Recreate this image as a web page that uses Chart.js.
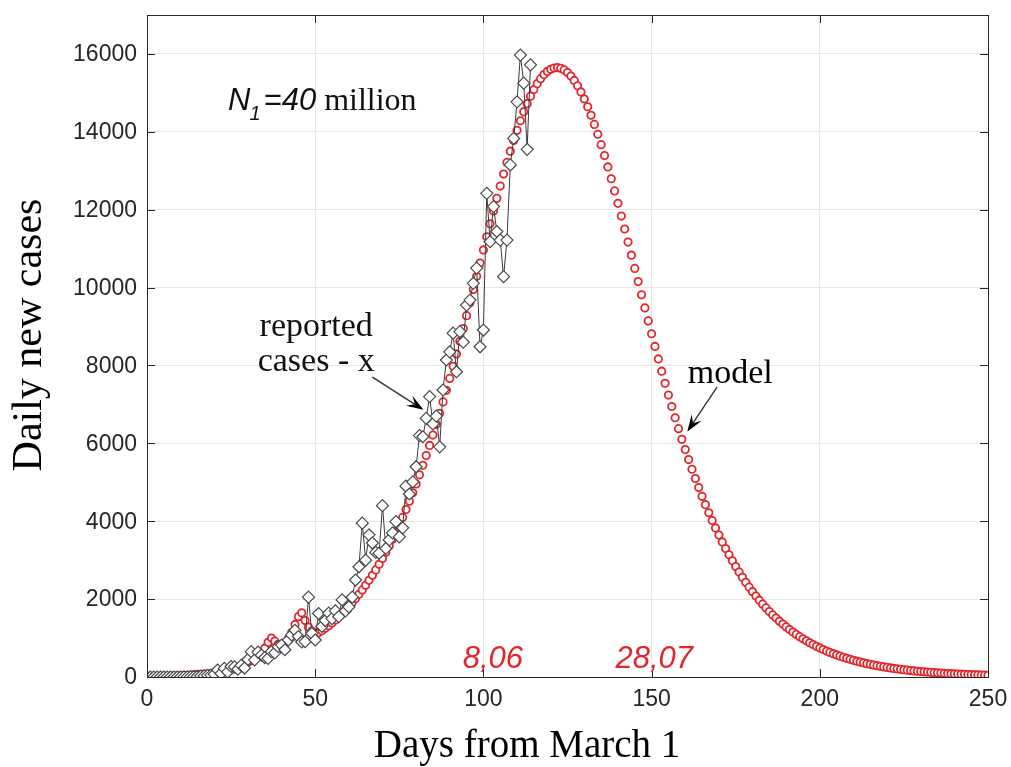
<!DOCTYPE html>
<html>
<head>
<meta charset="utf-8">
<script src="https://cdn.jsdelivr.net/npm/chart.js@4/dist/chart.umd.min.js"></script>
<style>
  html, body { margin: 0; padding: 0; background: #fff; }
</style>
</head>
<body>
<canvas id="casesChart" width="1011" height="767"></canvas>
<script>
// daily reported cases, one value per day starting at day 0 (March 1)
const reportedCases = [
  0, 0, 0, 0, 0, 0, 0, 0, 0, 0,
  0, 2, 5, 10, 15, 20, 25, 30, 40, 50,
  70, 180, 90, 220, 130, 270, 260, 200, 300, 230,
  450, 650, 440, 640, 560, 500, 480, 650, 620, 780,
  820, 700, 950, 1080, 1200, 1040, 900, 910, 2050, 1120,
  950, 1630, 1300, 1450, 1640, 1500, 1700, 1550, 1980, 1700,
  1800, 2050, 2490, 2830, 3950, 3000, 3650, 3440, 3200, 3180,
  4400, 3300, 3520, 3700, 3990, 3600, 3830, 4900, 4700, 5010,
  5400, 6200, 6170, 6640, 7200, 6500, 6700, 5910, 7370, 8140,
  8350, 8830, 7840, 8870, 8600, 9550, 9680, 10110, 10500, 8480,
  8910, 12420, 11180, 12080, 11440, 11220, 10280, 11220, 13150, 13830,
  14770, 15970, 15250, 13550, 15720
];

// model curve, one value per day from day 0 to day 250
const modelCases = [
  10, 12, 14, 16, 18, 20, 23, 26, 29, 32,
  36, 40, 45, 50, 55, 60, 66, 72, 80, 88,
  98, 110, 125, 142, 162, 185, 212, 240, 275, 320,
  380, 420, 470, 530, 620, 740, 890, 1000, 920, 840,
  820, 860, 980, 1140, 1350, 1550, 1650, 1450, 1280, 1180,
  1130, 1140, 1190, 1250, 1315, 1388, 1465, 1545, 1630, 1719,
  1813, 1911, 2014, 2123, 2237, 2356, 2482, 2613, 2750, 2894,
  3045, 3202, 3367, 3538, 3718, 3904, 4099, 4301, 4511, 4730,
  4957, 5192, 5435, 5686, 5946, 6213, 6489, 6773, 7064, 7362,
  7668, 7979, 8296, 8619, 8947, 9279, 9613, 9951, 10290, 10629,
  10967, 11304, 11638, 11967, 12291, 12608, 12916, 13215, 13503, 13778,
  14039, 14284, 14513, 14724, 14916, 15087, 15237, 15365, 15469, 15550,
  15607, 15639, 15650, 15632, 15590, 15524, 15433, 15319, 15182, 15024,
  14844, 14644, 14426, 14190, 13938, 13671, 13391, 13098, 12795, 12483,
  12163, 11837, 11505, 11170, 10832, 10493, 10154, 9815, 9479, 9145,
  8815, 8489, 8168, 7853, 7544, 7241, 6946, 6658, 6377, 6104,
  5840, 5584, 5335, 5096, 4864, 4640, 4425, 4218, 4019, 3828,
  3644, 3468, 3299, 3138, 2983, 2835, 2694, 2559, 2430, 2307,
  2190, 2078, 1972, 1871, 1774, 1682, 1595, 1512, 1433, 1358,
  1287, 1219, 1155, 1094, 1036, 981, 929, 879, 833, 788,
  746, 706, 668, 632, 598, 566, 536, 507, 479, 454,
  429, 406, 384, 363, 343, 325, 307, 291, 275, 260,
  246, 232, 220, 208, 197, 186, 176, 166, 157, 148,
  140, 133, 126, 119, 112, 106, 100, 95, 90, 85,
  80, 76, 72, 68, 64, 60, 57, 54, 51, 48,
  45
];

const xTickValues = [0, 50, 100, 150, 200, 250];
const yTickValues = [0, 2000, 4000, 6000, 8000, 10000, 12000, 14000, 16000];
const dateMarks = ['8,06', '28,07'];

const sansFont = '"Liberation Sans", Arial, Helvetica, sans-serif';
const serifFont = '"Liberation Serif", "Times New Roman", serif';
const axisColor = '#262626';
const modelRed = '#e3262b';

function drawArrow(ctx, x1, y1, x2, y2) {
  const ang = Math.atan2(y2 - y1, x2 - x1);
  const len = 17, half = 6;
  const cos = Math.cos(ang), sin = Math.sin(ang);
  ctx.strokeStyle = '#333';
  ctx.lineWidth = 1.4;
  ctx.beginPath();
  ctx.moveTo(x1, y1);
  ctx.lineTo(x2 - len * 0.6 * cos, y2 - len * 0.6 * sin);
  ctx.stroke();
  ctx.fillStyle = '#000';
  ctx.beginPath();
  ctx.moveTo(x2, y2);
  ctx.lineTo(x2 - len * cos + half * sin, y2 - len * sin - half * cos);
  ctx.lineTo(x2 - len * 0.6 * cos, y2 - len * 0.6 * sin);
  ctx.lineTo(x2 - len * cos - half * sin, y2 - len * sin + half * cos);
  ctx.closePath();
  ctx.fill();
}

// box, inner ticks, tick labels, titles and the text notes
const overlay = {
  id: 'overlay',
  afterDatasetsDraw(chart) {
    const { ctx, chartArea: a, scales: { x, y } } = chart;
    ctx.save();
    ctx.strokeStyle = axisColor;
    ctx.lineWidth = 1;
    ctx.strokeRect(Math.round(a.left) + 0.5, Math.round(a.top) + 0.5,
      Math.round(a.right - a.left), Math.round(a.bottom - a.top));

    ctx.beginPath();
    xTickValues.forEach(v => {
      const px = Math.round(x.getPixelForValue(v)) + 0.5;
      ctx.moveTo(px, a.bottom); ctx.lineTo(px, a.bottom - 8);
      ctx.moveTo(px, a.top); ctx.lineTo(px, a.top + 8);
    });
    yTickValues.forEach(v => {
      const py = Math.round(y.getPixelForValue(v)) + 0.5;
      ctx.moveTo(a.left, py); ctx.lineTo(a.left + 8, py);
      ctx.moveTo(a.right, py); ctx.lineTo(a.right - 8, py);
    });
    ctx.stroke();

    // tick labels
    ctx.fillStyle = axisColor;
    ctx.font = '23px ' + sansFont;
    ctx.textAlign = 'center';
    ctx.textBaseline = 'top';
    xTickValues.forEach(v => ctx.fillText(String(v), x.getPixelForValue(v), a.bottom + 11));
    ctx.textAlign = 'right';
    ctx.textBaseline = 'middle';
    yTickValues.forEach(v => ctx.fillText(String(v), a.left - 10, y.getPixelForValue(v) + 1));

    // axis titles
    ctx.fillStyle = '#000';
    ctx.font = '39px ' + serifFont;
    ctx.textAlign = 'center';
    ctx.textBaseline = 'alphabetic';
    ctx.fillText('Days from March 1', 527, 757);
    ctx.save();
    ctx.translate(41, 335);
    ctx.rotate(-Math.PI / 2);
    ctx.font = '42px ' + serifFont;
    ctx.fillText('Daily new cases', 0, 0);
    ctx.restore();

    // N1 = 40 million
    ctx.fillStyle = '#111';
    ctx.textAlign = 'left';
    let px = x.getPixelForValue(24.1);
    const py = y.getPixelForValue(14560);
    ctx.font = 'italic 31px ' + sansFont;
    ctx.fillText('N', px, py);
    px += ctx.measureText('N').width;
    ctx.font = 'italic 20px ' + sansFont;
    ctx.fillText('1', px - 1, py + 10);
    px += ctx.measureText('1').width + 2;
    ctx.font = 'italic 31px ' + sansFont;
    ctx.fillText('=40', px, py);
    px += ctx.measureText('=40').width + 8;
    ctx.font = '32px ' + serifFont;
    ctx.fillText('million', px, py);

    // reported cases label and arrow
    ctx.font = '34px ' + serifFont;
    ctx.textAlign = 'center';
    ctx.fillText('reported', x.getPixelForValue(50.3), y.getPixelForValue(8750));
    ctx.fillText('cases - x', x.getPixelForValue(50.3), y.getPixelForValue(7850));
    drawArrow(ctx, x.getPixelForValue(67), y.getPixelForValue(7700),
      x.getPixelForValue(82.2), y.getPixelForValue(6860));

    // model label and arrow
    ctx.fillText('model', x.getPixelForValue(173.4), y.getPixelForValue(7550));
    drawArrow(ctx, x.getPixelForValue(169.5), y.getPixelForValue(7450),
      x.getPixelForValue(160.6), y.getPixelForValue(6300));

    // red dates
    ctx.fillStyle = modelRed;
    ctx.font = 'italic 31px ' + sansFont;
    ctx.fillText(dateMarks[0], x.getPixelForValue(102.8), y.getPixelForValue(230));
    ctx.fillText(dateMarks[1], x.getPixelForValue(150.8), y.getPixelForValue(230));
    ctx.restore();
  }
};

const ctx = document.getElementById('casesChart').getContext('2d');
const chart = new Chart(ctx, {
  type: 'scatter',
  data: {
    datasets: [
      {
        label: 'reported cases - x',
        data: reportedCases.map((v, i) => ({ x: i, y: v })),
        showLine: true,
        borderColor: '#3a3a3a',
        borderWidth: 1,
        pointStyle: 'rectRot',
        pointRadius: 6,
        pointBorderWidth: 1.2,
        pointBorderColor: '#484848',
        pointBackgroundColor: '#fff',
        order: 0
      },
      {
        label: 'model',
        data: modelCases.map((v, i) => ({ x: i, y: v })),
        showLine: false,
        pointStyle: 'circle',
        pointRadius: 3.7,
        pointBorderWidth: 1.8,
        pointBorderColor: modelRed,
        pointBackgroundColor: '#fff',
        order: 1
      }
    ]
  },
  options: {
    responsive: false,
    devicePixelRatio: 1,
    animation: false,
    layout: { padding: { top: 15, right: 23, left: 0, bottom: 0 } },
    plugins: {
      legend: { display: false },
      tooltip: { enabled: false }
    },
    scales: {
      x: {
        type: 'linear',
        min: 0,
        max: 250,
        afterBuildTicks: scale => { scale.ticks = xTickValues.map(v => ({ value: v })); },
        afterFit: scale => { scale.height = 90; },
        ticks: { display: false },
        grid: { color: '#e6e6e6', drawTicks: false },
        border: { color: axisColor }
      },
      y: {
        min: 0,
        max: 17000,
        afterBuildTicks: scale => { scale.ticks = yTickValues.map(v => ({ value: v })); },
        afterFit: scale => { scale.width = 147; },
        ticks: { display: false },
        grid: { color: '#e6e6e6', drawTicks: false },
        border: { color: axisColor }
      }
    }
  },
  plugins: [overlay]
});
</script>
</body>
</html>
